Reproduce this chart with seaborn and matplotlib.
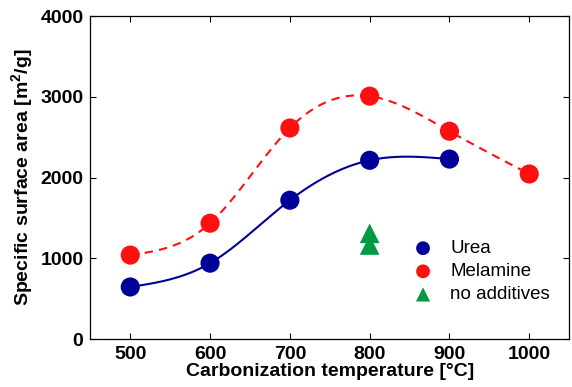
import numpy as np
import pandas as pd
import matplotlib
matplotlib.use('Agg')
import matplotlib.pyplot as plt
import seaborn as sns

# data
temp_urea = [500, 600, 700, 800, 900]
area_urea = [645, 940, 1720, 2215, 2230]
temp_melamine = [500, 600, 700, 800, 900, 1000]
area_melamine = [1040, 1435, 2615, 3010, 2575, 2045]
temp_none = [800, 800]
area_none = [1165, 1310]


def natural_spline(x, y, n=200):
    # natural cubic spline drawn through the measured points
    x = np.asarray(x, float)
    y = np.asarray(y, float)
    m = len(x)
    h = np.diff(x)
    A = np.zeros((m, m))
    b = np.zeros(m)
    A[0, 0] = A[-1, -1] = 1
    for i in range(1, m - 1):
        A[i, i - 1] = h[i - 1]
        A[i, i] = 2 * (h[i - 1] + h[i])
        A[i, i + 1] = h[i]
        b[i] = 6 * ((y[i + 1] - y[i]) / h[i] - (y[i] - y[i - 1]) / h[i - 1])
    M = np.linalg.solve(A, b)
    xs = np.linspace(x[0], x[-1], n)
    idx = np.clip(np.searchsorted(x, xs) - 1, 0, m - 2)
    x0, x1 = x[idx], x[idx + 1]
    hh = x1 - x0
    ys = (M[idx] * (x1 - xs) ** 3 / (6 * hh) + M[idx + 1] * (xs - x0) ** 3 / (6 * hh)
          + (y[idx] / hh - M[idx] * hh / 6) * (x1 - xs)
          + (y[idx + 1] / hh - M[idx + 1] * hh / 6) * (xs - x0))
    return xs, ys


sns.set_style('ticks')
plt.rcParams['font.family'] = ['Liberation Sans', 'DejaVu Sans']
plt.rcParams['mathtext.fontset'] = 'custom'
plt.rcParams['mathtext.bf'] = 'Liberation Sans:bold'
for key in ['text.color', 'axes.labelcolor', 'xtick.color', 'ytick.color']:
    plt.rcParams[key] = 'black'

blue = '#000099'
red = '#ff0f0f'
green = '#009944'

fig, ax = plt.subplots(figsize=(5.72, 3.87), dpi=100)

xs, ys = natural_spline(temp_urea, area_urea)
sns.lineplot(x=xs, y=ys, ax=ax, color=blue, lw=1.5, sort=False)
xs, ys = natural_spline(temp_melamine, area_melamine)
ax.plot(xs, ys, color=red, lw=1.5, ls=(0, (4, 3)))

sns.scatterplot(x=temp_urea, y=area_urea, ax=ax, color=blue, s=190,
                edgecolor='none', label='Urea', zorder=3)
sns.scatterplot(x=temp_melamine, y=area_melamine, ax=ax, color=red, s=190,
                edgecolor='none', label='Melamine', zorder=3)
sns.scatterplot(x=temp_none, y=area_none, ax=ax, color=green, s=200, marker='^',
                edgecolor='none', label='no additives', zorder=3)

ax.set_xlim(450, 1050)
ax.set_ylim(0, 4000)
ax.set_xticks([500, 600, 700, 800, 900, 1000])
ax.set_yticks([0, 1000, 2000, 3000, 4000])
ax.tick_params(direction='in', top=True, right=True, length=4, width=0.8,
               labelsize=14, pad=5)
for lab in ax.get_xticklabels() + ax.get_yticklabels():
    lab.set_fontweight('bold')
for sp in ax.spines.values():
    sp.set_linewidth(0.9)
    sp.set_color('black')

ax.set_xlabel('Carbonization temperature [°C]', fontsize=14, fontweight='bold', labelpad=0)
ax.set_ylabel('Specific surface area [m$^\\mathbf{2}$/g]', fontsize=14, fontweight='bold', labelpad=3)

leg = ax.legend(loc='upper left', bbox_to_anchor=(0.64, 0.33), frameon=False,
                fontsize=13.5, handletextpad=0.45, labelspacing=0.32,
                markerscale=0.72, borderaxespad=0)

fig.subplots_adjust(left=0.158, right=0.995, top=0.958, bottom=0.124)
fig.savefig('out.png', dpi=100)
